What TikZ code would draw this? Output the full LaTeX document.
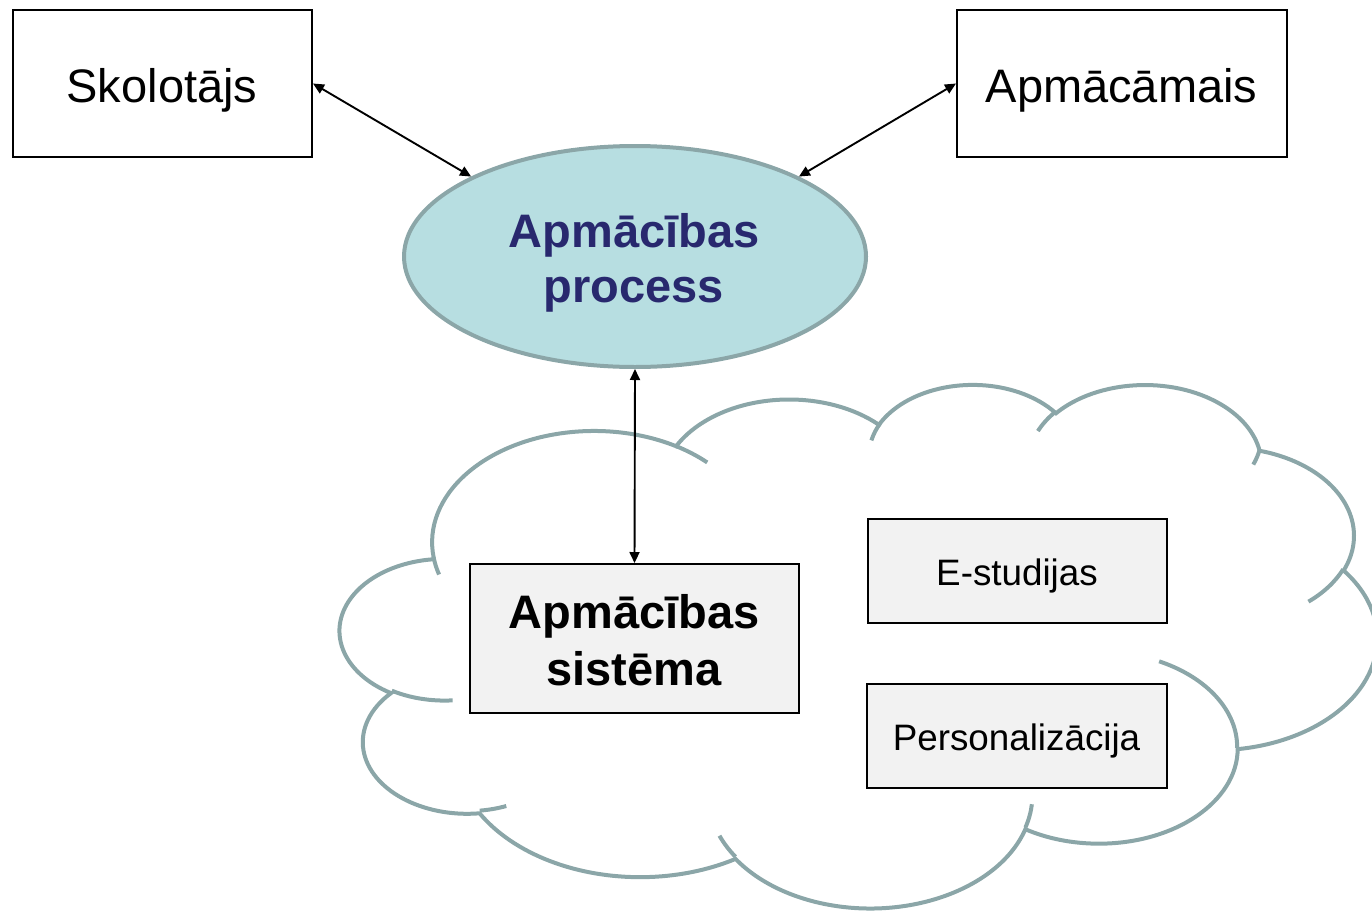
\documentclass[tikz,border=0pt]{standalone}
\usepackage{fontspec}
\setmainfont{Liberation Sans}
\usetikzlibrary{arrows.meta,shapes.geometric}

\definecolor{cloudline}{RGB}{139,166,168}
\definecolor{procfill}{RGB}{183,222,225}
\definecolor{proctext}{RGB}{40,40,110}
\definecolor{boxfill}{RGB}{242,242,242}

% Elliptic arc given by radii and a start/sweep angle measured on screen
% (y pointing down); stores a ready-to-use "arc[...]" path piece in \<name>.
\newcommand\defcloudarc[5]{%
  \pgfmathsetmacro\cloudS{atan2((#2)*sin(#4),(#3)*cos(#4))}%
  \pgfmathsetmacro\cloudE{atan2((#2)*sin((#4)+(#5)),(#3)*cos((#4)+(#5)))}%
  \pgfmathsetmacro\cloudD{mod(\cloudE-\cloudS+720,360)}%
  \expandafter\xdef\csname #1\endcsname{arc[start angle=\cloudS, delta angle=\cloudD, x radius=#2pt, y radius=#3pt]}}

\begin{document}
\begin{tikzpicture}[x=1pt,y=1pt,
  cloudedge/.style={draw=cloudline, line width=4pt},
  plainbox/.style={rectangle, draw=black, line width=2pt, inner sep=0pt},
  greybox/.style={plainbox, fill=boxfill},
  procshape/.style={ellipse, draw=cloudline, fill=procfill, line width=4pt, inner sep=0pt},
  bigtext/.style={font=\fontsize{47}{56}\selectfont, inner sep=0pt, anchor=base},
  boldtext/.style={bigtext, font=\fontsize{47}{56}\selectfont\bfseries},
  smalltext/.style={font=\fontsize{36.8}{44}\selectfont, inner sep=0pt, anchor=base},
  link/.style={line width=1.9pt, black, {Triangle[length=11pt,width=10pt]}-{Triangle[length=11pt,width=10pt]}}]

\useasboundingbox (0,0) rectangle (1372,-913);

% ---- cloud outline: lobes ----
\defcloudarc{arcA}{675.3}{919.0}{-190.48748}{123.78053}
\defcloudarc{arcB}{533.3}{726.7}{-144.10238}{89.94523}
\defcloudarc{arcC}{436.5}{594.5}{-145.80792}{99.72302}
\defcloudarc{arcD}{485.7}{659.5}{-130.98607}{117.24173}
\defcloudarc{arcE}{533.3}{727.3}{-78.70888}{109.02692}
\defcloudarc{arcF}{677.5}{922.0}{-46.26725}{130.26900}
\defcloudarc{arcG}{578.5}{786.7}{0.62502}{114.03333}
\defcloudarc{arcH}{675.2}{921.5}{22.45160}{115.17255}
\defcloudarc{arcI}{772.0}{1054.3}{66.24263}{75.50000}
\defcloudarc{arcJ}{436.0}{591.8}{-274.94208}{146.74048}
\defcloudarc{arcK}{434.5}{594.5}{-246.82850}{152.51950}
% ---- cloud inner strokes ----
\defcloudarc{stubA}{434.5}{594.5}{86.74200}{26.42950}
\defcloudarc{stubB}{436.0}{591.8}{73.61047}{11.44747}
\defcloudarc{stubC}{675.2}{921.5}{137.62415}{14.08110}
\defcloudarc{stubD}{675.2}{921.5}{6.45327}{15.99835}
\defcloudarc{stubE}{578.5}{786.7}{-70.29235}{70.91737}
\defcloudarc{stubF}{533.3}{727.3}{30.31803}{27.75150}
\defcloudarc{stubG}{485.7}{659.5}{13.74433}{14.85890}
\defcloudarc{stubH}{485.7}{659.5}{-149.18145}{18.19537}
\defcloudarc{stubI}{436.5}{594.5}{-163.49427}{17.68635}
\defcloudarc{stubJ}{675.3}{919.0}{-66.70695}{12.31935}
\defcloudarc{stubK}{675.3}{919.0}{157.65435}{11.85817}

\begin{scope}[shift={(340,-383.2)}, xscale=0.24, yscale=-0.12116]
  \draw[cloudedge] (390,1437) \arcA \arcB \arcC \arcD \arcE \arcF \arcG \arcH \arcI \arcJ \arcK -- cycle;
  \draw[cloudedge]
    (469.3,2617.7) \stubA
    (692.8,3489.9) \stubB
    (1647.8,3909.0) \stubC
    (2882.7,3475.1) \stubD
    (3412.9,2295.4) \stubE
    (4179.8,1535.4) \stubF
    (3832.4,542.6) \stubG
    (2907.8,395.2) \stubH
    (2214.1,472.0) \stubI
    (1400.0,519.2) \stubJ
    (412.7,1578.9) \stubK;
\end{scope}

% ---- shapes ----
\node[plainbox, minimum width=299pt, minimum height=147pt] (skol) at (162.5,-83.5) {};
\node[plainbox, minimum width=330pt, minimum height=147pt] (apm) at (1122,-83.5) {};
\node[procshape, minimum width=462pt, minimum height=221pt] (proc) at (635,-256.5) {};
\node[greybox, minimum width=329pt, minimum height=149pt] (sist) at (634.5,-638.5) {};
\node[greybox, minimum width=299pt, minimum height=104pt] (estud) at (1017,-571) {};
\node[greybox, minimum width=300pt, minimum height=104pt] (pers) at (1017,-736.3) {};

% ---- labels ----
\node[bigtext] (skoltxt) at (162,-102) {Skolotājs};
\node[bigtext] (apmtxt) at (1121.5,-102) {Apmācāmais};
\node[boldtext, text=proctext] (proctxta) at (634,-247) {Apmācības};
\node[boldtext, text=proctext] (proctxtb) at (634,-302) {process};
\node[boldtext] (sisttxta) at (634,-628) {Apmācības};
\node[boldtext] (sisttxtb) at (634,-685) {sistēma};
\node[smalltext] (estudtxt) at (1017,-585) {E-studijas};
\node[smalltext] (perstxt) at (1016.5,-750) {Personalizācija};

% ---- connectors ----
\draw[link] (skol.east) -- (proc.154.5);
\draw[link] (apm.west) -- (proc.26);
\draw[link] (proc.south) -- (sist.north);
\end{tikzpicture}
\end{document}
